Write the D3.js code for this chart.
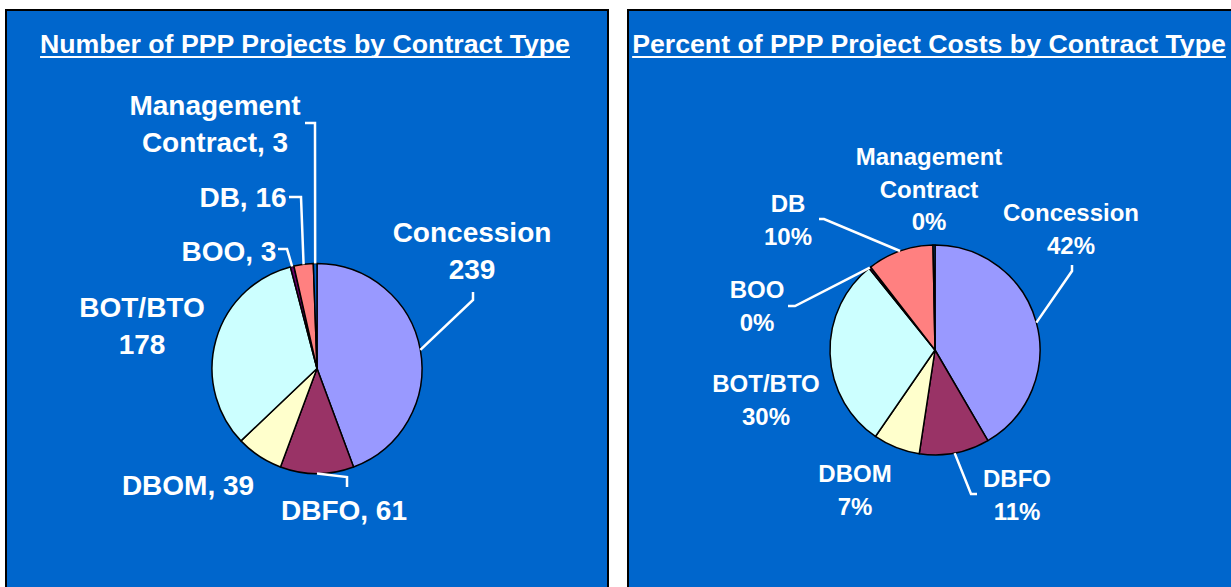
<!DOCTYPE html>
<html>
<head>
<meta charset="utf-8">
<script src="https://cdn.jsdelivr.net/npm/d3@7"></script>
<style>
  body { margin: 0; background: #fff; }
  svg { display: block; }
  text { font-family: "Liberation Sans", Arial, sans-serif; font-weight: bold; fill: #fff; }
</style>
</head>
<body>
<div id="screen"></div>
<script>
var categories = ['Concession', 'DBFO', 'DBOM', 'BOT/BTO', 'BOO', 'DB', 'Management Contract'];
var projectCounts = [239, 61, 39, 178, 3, 16, 3];
var costShares = [41.6, 10.8, 7.2, 29.6, 0.3, 10.2, 0.3];
var sliceColors = ['#9999FF', '#993366', '#FFFFCC', '#CCFFFF', '#660066', '#FF8080', '#0066CC'];
var titles = ['Number of PPP Projects by Contract Type', 'Percent of PPP Project Costs by Contract Type'];

var svg = d3.select('#screen').append('svg')
  .attr('width', 1231)
  .attr('height', 587);

// panels
svg.append('rect').attr('x', 6).attr('y', 10).attr('width', 602).attr('height', 600)
  .attr('fill', '#0066CC').attr('stroke', '#000').attr('stroke-width', 2);
svg.append('rect').attr('x', 628).attr('y', 10).attr('width', 620).attr('height', 600)
  .attr('fill', '#0066CC').attr('stroke', '#000').attr('stroke-width', 2);

function title(text, cx) {
  var t = svg.append('text')
    .attr('x', cx).attr('y', 53)
    .attr('text-anchor', 'middle')
    .style('font-size', '26.7px')
    .text(text);
  var w = t.node().getComputedTextLength();
  svg.append('line')
    .attr('x1', cx - w / 2).attr('x2', cx + w / 2)
    .attr('y1', 57).attr('y2', 57)
    .attr('stroke', '#fff').attr('stroke-width', 2);
}
title(titles[0], 305);
title(titles[1], 929);

// label layout: anchor (x, first baseline), line split, leader bends
var leftLayout = [
  { x: 472, y: 242, lines: function(n, v) { return [n, v]; }, leader: [[473, 292], [473, 300]] },
  { x: 344, y: 520, lines: function(n, v) { return [n + ', ' + v]; }, leader: [[347, 487], [347, 477]] },
  { x: 188, y: 495, lines: function(n, v) { return [n + ', ' + v]; } },
  { x: 142, y: 317, lines: function(n, v) { return [n, v]; } },
  { x: 229, y: 261, lines: function(n, v) { return [n + ', ' + v]; }, leader: [[278, 249], [287, 249]] },
  { x: 243, y: 207, lines: function(n, v) { return [n + ', ' + v]; }, leader: [[289, 197], [301, 197]] },
  { x: 215, y: 115, lines: function(n, v) { return ['Management', 'Contract, ' + v]; }, leader: [[305, 123], [315, 123]] }
];
var rightLayout = [
  { x: 1071, y: 221, lines: function(n, v) { return [n, v]; }, leader: [[1072, 265], [1072, 271]] },
  { x: 1017, y: 487, lines: function(n, v) { return [n, v]; }, leader: [[977, 494], [971, 494]] },
  { x: 855, y: 482, lines: function(n, v) { return [n, v]; } },
  { x: 766, y: 392, lines: function(n, v) { return [n, v]; } },
  { x: 757, y: 298, lines: function(n, v) { return [n, v]; }, leader: [[788, 306], [795, 306]] },
  { x: 788, y: 212, lines: function(n, v) { return [n, v]; }, leader: [[819, 219], [824, 219]] },
  { x: 929, y: 165, lines: function(n, v) { return ['Management', 'Contract', v]; } }
];

function drawPie(values, fmt, cx, cy, r, layout, fontSize, lineH) {
  var pie = d3.pie().sort(null).value(function(d) { return d; });
  var arcs = pie(values);
  var arc = d3.arc().innerRadius(0).outerRadius(r);
  var edge = d3.arc().innerRadius(r).outerRadius(r);

  var g = svg.append('g').attr('transform', 'translate(' + cx + ',' + cy + ')');
  g.selectAll('path.slice').data(arcs).enter().append('path')
    .attr('class', 'slice')
    .attr('d', arc)
    .attr('fill', function(d, i) { return sliceColors[i]; })
    .attr('stroke', '#000')
    .attr('stroke-width', 1.5)
    .attr('stroke-linejoin', 'round');

  arcs.forEach(function(d, i) {
    var lay = layout[i];
    var lines = lay.lines(categories[i], fmt(d.value, i));
    var t = svg.append('text')
      .attr('text-anchor', 'middle')
      .style('font-size', fontSize + 'px');
    lines.forEach(function(s, k) {
      t.append('tspan').attr('x', lay.x).attr('y', lay.y + k * lineH).text(s);
    });
    if (lay.leader) {
      var p = edge.centroid(d);
      var pts = lay.leader.concat([[cx + p[0], cy + p[1]]]);
      svg.append('path')
        .attr('d', d3.line()(pts))
        .attr('fill', 'none')
        .attr('stroke', '#fff')
        .attr('stroke-width', 2.5);
    }
  });
}

var costTotal = d3.sum(costShares);
drawPie(projectCounts, function(v) { return v; }, 317, 368.5, 105, leftLayout, 28, 37);
drawPie(costShares, function(v) { return Math.round(v / costTotal * 100) + '%'; }, 935, 350, 105, rightLayout, 24, 32.5);
</script>
</body>
</html>
